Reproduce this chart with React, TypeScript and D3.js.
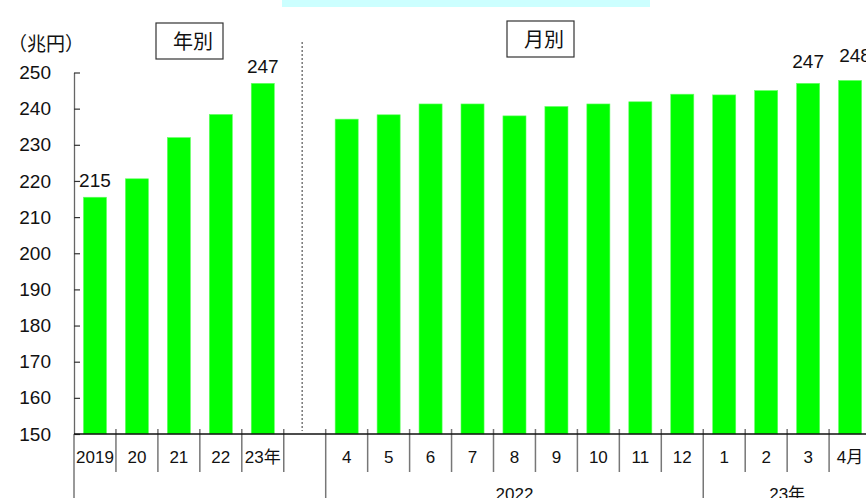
import { useEffect, useRef } from "react";
import * as d3 from "d3";

// slots along the x axis ("" = empty gap between yearly and monthly parts)
const CATEGORIES = ["2019", "20", "21", "22", "23年", "", "4", "5", "6", "7", "8", "9", "10", "11", "12", "1", "2", "3", "4月"];
const VALUES = [215.5, 220.6, 232.0, 238.4, 247.0, null, 237.1, 238.3, 241.3, 241.3, 238.0, 240.6, 241.3, 241.9, 244.0, 243.8, 245.0, 247.0, 247.8];
const Y_TICKS = [150, 160, 170, 180, 190, 200, 210, 220, 230, 240, 250];
// labelled bars
const LABEL_INDEX = [0, 4, 17, 18];
const LABEL_TEXT = ["215", "247", "247", "248"];
// second tier groups on the x axis
const GROUP_LABELS = ["", "2022", "23年"];
const GROUP_START = [0, 6, 15];
const GROUP_END = [6, 15, 19];

const W = 866;
const H = 498;
const left = 74;
const step = 41.95;
const top = 72.5;
const bottom = 434;
const FONT = "'Liberation Sans', Arial, 'Noto Sans CJK JP', sans-serif";

export default function App() {
  const ref = useRef<SVGSVGElement>(null);

  useEffect(() => {
    const svg = d3.select(ref.current);
    svg.selectAll("*").remove();

    const keys = CATEGORIES.map((_, i) => String(i));
    const x = d3
      .scaleBand()
      .domain(keys)
      .range([left, left + step * keys.length])
      .paddingInner(0.45)
      .paddingOuter(0.225);
    const y = d3.scaleLinear().domain([150, 250]).range([bottom, top]);

    // light blue strip at the very top
    svg.append("rect").attr("x", 282).attr("y", 0).attr("width", 368).attr("height", 7).attr("fill", "#ccffff");

    // bars
    svg
      .append("g")
      .selectAll("rect")
      .data(VALUES.map((v, i) => ({ v, i })).filter((d) => d.v !== null))
      .join("rect")
      .attr("x", (d) => x(String(d.i))!)
      .attr("y", (d) => y(d.v as number))
      .attr("width", x.bandwidth())
      .attr("height", (d) => bottom - y(d.v as number))
      .attr("fill", "#00ff00")
      .attr("stroke", "#66ff66")
      .attr("stroke-width", 0.6);

    // y axis, ticks pointing inward
    const yAxis = svg
      .append("g")
      .attr("transform", `translate(${left},0)`)
      .call(d3.axisLeft(y).tickValues(Y_TICKS).tickSizeInner(-6).tickSizeOuter(0).tickPadding(23));
    yAxis.select(".domain").attr("stroke", "#666").attr("stroke-width", 1.3);
    yAxis.selectAll(".tick line").attr("stroke", "#333").attr("stroke-width", 1.2);
    yAxis
      .selectAll(".tick text")
      .attr("font-family", FONT)
      .attr("font-size", 19)
      .attr("fill", "#111");

    // dotted divider between yearly and monthly parts
    const divX = x(String(5))! + 9;
    svg
      .append("line")
      .attr("x1", divX)
      .attr("x2", divX)
      .attr("y1", 42)
      .attr("y2", bottom - 3)
      .attr("stroke", "#777")
      .attr("stroke-width", 1.5)
      .attr("stroke-dasharray", "2,2");

    // category boundaries
    const bounds = d3.range(keys.length + 1).map((i) => left + i * step);
    const groupEdges = new Set([...GROUP_START, ...GROUP_END]);
    svg
      .append("g")
      .selectAll("line")
      .data(bounds.map((b, i) => ({ b, i })))
      .join("line")
      .attr("x1", (d) => d.b)
      .attr("x2", (d) => d.b)
      .attr("y1", (d) => (d.i === 0 ? bottom : 429))
      .attr("y2", (d) => (groupEdges.has(d.i) ? H : 472))
      .attr("stroke", "#777")
      .attr("stroke-width", 1.5);

    // x axis line
    svg
      .append("line")
      .attr("x1", left)
      .attr("x2", W)
      .attr("y1", bottom)
      .attr("y2", bottom)
      .attr("stroke", "#111")
      .attr("stroke-width", 1.3);

    // category labels
    svg
      .append("g")
      .selectAll("text")
      .data(CATEGORIES)
      .join("text")
      .attr("x", (_, i) => x(String(i))! + x.bandwidth() / 2)
      .attr("y", 463)
      .attr("text-anchor", "middle")
      .attr("font-family", FONT)
      .attr("font-size", 17)
      .attr("fill", "#111")
      .text((d) => d);

    // group labels (cut by the bottom edge, as in the source)
    svg
      .append("g")
      .selectAll("text")
      .data(GROUP_LABELS)
      .join("text")
      .attr("x", (_, i) => left + ((GROUP_START[i] + GROUP_END[i]) / 2) * step)
      .attr("y", 500)
      .attr("text-anchor", "middle")
      .attr("font-family", FONT)
      .attr("font-size", 17)
      .attr("fill", "#111")
      .text((d) => d);

    // value labels
    svg
      .append("g")
      .selectAll("text")
      .data(LABEL_INDEX)
      .join("text")
      .attr("x", (d) => x(String(d))! + x.bandwidth() / 2 + (d === 18 ? 5 : 0))
      .attr("y", (d) => y(VALUES[d] as number) - (d === 0 ? 10 : d === 4 ? 10 : d === 17 ? 15 : 18))
      .attr("text-anchor", "middle")
      .attr("font-family", FONT)
      .attr("font-size", 19)
      .attr("fill", "#111")
      .text((_, i) => LABEL_TEXT[i]);

    // unit
    svg
      .append("text")
      .attr("x", 8)
      .attr("y", 51)
      .attr("font-family", FONT)
      .attr("font-size", 19)
      .attr("fill", "#111")
      .text("（兆円）");

    // section boxes
    const boxes = [
      { x: 156, y: 23, text: "年別" },
      { x: 507, y: 21, text: "月別" },
    ];
    const bx = svg.append("g").selectAll("g").data(boxes).join("g");
    bx.append("rect")
      .attr("x", (d) => d.x)
      .attr("y", (d) => d.y)
      .attr("width", 67)
      .attr("height", 36)
      .attr("fill", "white")
      .attr("stroke", "#333")
      .attr("stroke-width", 1.2);
    bx.append("text")
      .attr("x", (d) => d.x + 37)
      .attr("y", (d) => d.y + 26)
      .attr("text-anchor", "middle")
      .attr("font-family", FONT)
      .attr("font-size", 20)
      .attr("fill", "#111")
      .text((d) => d.text);
  }, []);

  return (
    <svg
      ref={ref}
      width={W}
      height={H}
      style={{ position: "absolute", left: 0, top: 0, background: "white" }}
    />
  );
}
